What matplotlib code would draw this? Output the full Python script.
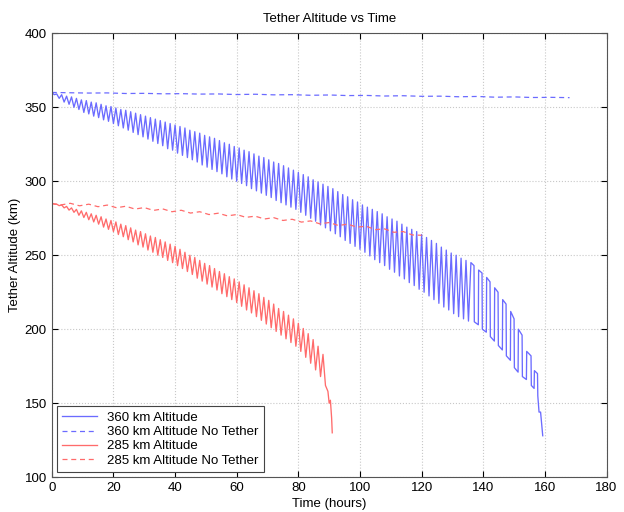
import numpy as np
import matplotlib.pyplot as plt

plt.rcParams['font.family'] = ['Liberation Sans', 'DejaVu Sans']

# 360 km with tether: orbit peaks / troughs, one pair per 1.6 h cycle
step = 0.8
top360 = [360, 359, 358.5, 357.5, 357, 356, 355, 354.5, 353.5, 353,
          352, 351, 350.5, 349.5, 348.5, 348, 347, 346, 345, 344,
          343, 342, 341, 340, 339, 338, 337, 336, 334.5, 333.5,
          332.5, 331, 330, 329, 327.5, 326, 325, 323.5, 322.5, 321,
          320, 318.5, 317, 316, 314.5, 313, 312, 310.5, 309, 307.5,
          306, 304.5, 303, 301, 299.5, 298, 296.5, 295, 293, 291,
          289.5, 287.5, 286, 284, 282.5, 281, 279.5, 278, 276, 274.5,
          273, 271, 269, 267.5, 266, 264, 262, 260, 258, 255.5,
          253.5, 251.5, 250, 248, 246.5]
bot360 = [358.5, 356, 353.5, 352, 350, 348.5, 346.5, 345.5, 344, 343,
          341.5, 340.5, 339, 337.5, 336, 334.5, 333, 331.5, 330, 328.5,
          327, 325.5, 324, 322, 321, 319, 317.5, 316, 314.5, 313,
          311, 309.5, 308, 306.5, 305, 303, 301.5, 300, 298.5, 297,
          295, 293.5, 292, 290.5, 289, 287, 285.5, 284, 282.5, 281,
          279, 277, 275, 273, 270.5, 268.5, 266.5, 264.5, 262.5, 260,
          258, 256, 254, 252, 249.5, 247, 245, 243, 240.5, 238.5,
          236, 234, 231.5, 229.5, 227, 225, 222.5, 220, 217.5, 215,
          213, 210.5, 208.5, 207, 205.5]
# last hours, coarse sampling gives square steps
tail360_t = [136.0, 137.0, 137.1, 138.4, 138.5, 139.6, 139.7, 141.0, 141.1, 142.2,
             142.3, 143.6, 143.7, 144.8, 144.9, 146.2, 146.3, 147.4, 147.5, 148.8,
             148.9, 150.0, 150.1, 151.3, 151.4, 152.6, 152.7, 154.0, 154.1, 155.5,
             155.6, 156.5, 156.6, 157.6, 157.7, 158.1, 158.6, 159.3]
tail360_h = [245, 243, 205, 203, 240, 238, 200, 198, 235, 232,
             195, 192, 228, 225, 189, 186, 220, 217, 182, 179,
             212, 207, 174, 171, 200, 196, 168, 166, 185, 182,
             162, 160, 172, 170, 155, 144, 144, 128]

# 285 km with tether
top285 = [285, 284.5, 284, 283, 282, 281, 280, 279, 278, 277,
          276, 274.5, 273.5, 272.5, 271, 270, 268.5, 267, 266, 264.5,
          263, 262, 260.5, 259, 257.5, 256, 254, 252, 250, 248.5,
          246.5, 244.5, 243, 241, 239, 237.5, 235.5, 234, 232, 230,
          228, 226, 224, 221.5, 219.5, 217, 214, 212, 209.5, 207,
          204, 200.5, 197, 193, 188.5, 183]
bot285 = [284.5, 283.5, 282, 280.5, 279, 277, 275.5, 274, 272.5, 271,
          269, 267.5, 266, 264, 262.5, 260.5, 259, 257, 255.5, 253.5,
          252, 250, 248.5, 246.5, 245, 243, 241, 239, 237, 234.5,
          232.5, 230.5, 228.5, 226.5, 224, 222, 220, 218, 215.5, 213,
          211, 208.5, 206, 203.5, 201, 198.5, 196, 193.5, 191, 188.5,
          185, 181, 177, 172.5, 168, 162]
tail285_t = [89.6, 90.0, 90.4, 90.8, 91.0]
tail285_h = [158, 150, 152, 140, 130]

# no tether runs
nt360_t = list(range(0, 169, 6))
nt360_h = [360, 359.8, 359.6, 359.7, 359.3, 359.4, 359.1, 359.2, 358.9, 359.0,
           358.6, 358.8, 358.4, 358.5, 358.1, 358.3, 357.9, 358.0, 357.6, 357.8,
           357.4, 357.5, 357.1, 357.3, 356.8, 357.0, 356.6, 356.7, 356.5]
nt285_t = list(range(0, 121, 3))
nt285_h = [285.0, 284.0, 285.1, 283.4, 284.5, 282.8, 283.9, 282.1, 283.1, 281.2,
           282.2, 280.3, 281.3, 279.4, 280.4, 278.5, 279.4, 277.5, 278.4, 276.6,
           277.5, 275.6, 276.4, 274.5, 275.4, 273.5, 274.3, 272.4, 273.2, 271.2,
           272.1, 270.1, 271.0, 269.0, 269.6, 267.3, 267.8, 265.5, 266.0, 263.7,
           263.5]

h360 = np.column_stack([top360, bot360]).ravel()
t360 = np.arange(len(h360)) * step
t360 = np.concatenate([t360, tail360_t])
h360 = np.concatenate([h360, tail360_h])

h285 = np.column_stack([top285, bot285]).ravel()
t285 = np.arange(len(h285)) * step
t285 = np.concatenate([t285, tail285_t])
h285 = np.concatenate([h285, tail285_h])

blue = '#6b6bff'
red = '#ff6b6b'

fig = plt.figure(figsize=(6.24, 5.12), dpi=100)
ax = fig.add_axes([0.083, 0.068, 0.889, 0.867])

ax.plot(t360, h360, color=blue, lw=0.95, label='360 km Altitude')
ax.plot(nt360_t, nt360_h, color=blue, lw=0.9, ls='--', dashes=(4, 3), label='360 km Altitude No Tether')
ax.plot(t285, h285, color=red, lw=0.95, label='285 km Altitude')
ax.plot(nt285_t, nt285_h, color=red, lw=0.9, ls='--', dashes=(4, 3), label='285 km Altitude No Tether')

ax.set_xlim(0, 180)
ax.set_ylim(100, 400)
ax.set_xticks(range(0, 181, 20))
ax.set_yticks(range(100, 401, 50))
ax.grid(True, ls=':', color='#c8c8c8', lw=0.8)
ax.tick_params(direction='in', top=True, right=True, labelsize=9.5, length=4)
for s in ax.spines.values():
    s.set_color('#555555')
    s.set_linewidth(0.8)

ax.set_title('Tether Altitude vs Time', fontsize=9.5, pad=8)
ax.set_xlabel('Time (hours)', fontsize=9.5, labelpad=3)
ax.set_ylabel('Tether Altitude (km)', fontsize=9.5, labelpad=3)

leg = ax.legend(loc='lower left', fontsize=9.5, fancybox=False, framealpha=1,
                borderaxespad=0.4, handlelength=2.6, labelspacing=0.15,
                borderpad=0.4, edgecolor='#444444')
leg.get_frame().set_linewidth(0.8)

plt.savefig('out.png', dpi=100)
